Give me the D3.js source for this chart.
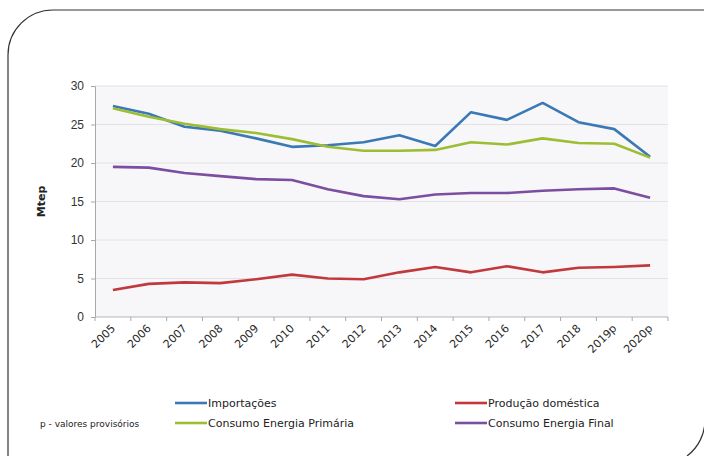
<!DOCTYPE html>
<html lang="pt">
<head>
<meta charset="UTF-8">
<title>Mtep</title>
<script src="https://d3js.org/d3.v7.min.js"></script>
<style>
  body, html { margin: 0; padding: 0; background: #fff; overflow: hidden; }
  svg { font-family: "DejaVu Sans", Verdana, sans-serif; }
</style>
</head>
<body>
<div id="chart"></div>
<script>
const years = ["2005","2006","2007","2008","2009","2010","2011","2012","2013","2014","2015","2016","2017","2018","2019p","2020p"];
const importacoes = [27.4, 26.4, 24.7, 24.2, 23.2, 22.1, 22.3, 22.7, 23.6, 22.2, 26.6, 25.6, 27.8, 25.3, 24.4, 20.8];
const producao    = [3.5, 4.3, 4.5, 4.4, 4.9, 5.5, 5.0, 4.9, 5.8, 6.5, 5.8, 6.6, 5.8, 6.4, 6.5, 6.7];
const primaria    = [27.1, 26.0, 25.1, 24.4, 23.9, 23.1, 22.1, 21.6, 21.6, 21.7, 22.7, 22.4, 23.2, 22.6, 22.5, 20.7];
const final       = [19.5, 19.4, 18.7, 18.3, 17.9, 17.8, 16.6, 15.7, 15.3, 15.9, 16.1, 16.1, 16.4, 16.6, 16.7, 15.5];
const yTicks = [0, 5, 10, 15, 20, 25, 30];

const series = [
  {name: "Importações", values: importacoes, color: "#3a78b6"},
  {name: "Produção doméstica", values: producao, color: "#c1393c"},
  {name: "Consumo Energia Primária", values: primaria, color: "#9dbd32"},
  {name: "Consumo Energia Final", values: final, color: "#7b4ea1"}
];

const width = 704, height = 456;
const margin = {top: 86, right: 36, bottom: 139, left: 95};
const innerWidth = width - margin.left - margin.right;
const innerHeight = height - margin.top - margin.bottom;

const svg = d3.select("#chart").append("svg")
  .attr("width", width)
  .attr("height", height);

// frame with rounded corners
svg.append("path")
  .attr("d", "M8,460 V55 A45,45 0 0 1 53,10 H710")
  .attr("fill", "none").attr("stroke", "#333").attr("stroke-width", 1.2);
svg.append("path")
  .attr("d", "M705,380 V420 A45,45 0 0 1 687,456")
  .attr("fill", "none").attr("stroke", "#333").attr("stroke-width", 1.2);

const g = svg.append("g").attr("transform", `translate(${margin.left},${margin.top})`);

const x = d3.scalePoint().domain(years).range([0, innerWidth]).padding(0.5);
const xBand = d3.scaleBand().domain(years).range([0, innerWidth]);
const y = d3.scaleLinear().domain([0, 30]).range([innerHeight, 0]);

g.append("rect")
  .attr("width", innerWidth).attr("height", innerHeight)
  .attr("fill", "#f7f7f9");

// gridlines
g.selectAll(".grid").data(yTicks.slice(1)).enter().append("line")
  .attr("x1", 0).attr("x2", innerWidth)
  .attr("y1", d => y(d)).attr("y2", d => y(d))
  .attr("stroke", "#e2e2e4").attr("stroke-width", 1);

// y axis
const yAxis = g.append("g")
  .call(d3.axisLeft(y).tickValues(yTicks).tickSize(4).tickPadding(7));
yAxis.select(".domain").attr("stroke", "#a8a8a8");
yAxis.selectAll(".tick line").attr("stroke", "#a8a8a8");
yAxis.selectAll("text").attr("fill", "#333").style("font-size", "12px");

// x axis: ticks at category boundaries
const xAxis = g.append("g").attr("transform", `translate(0,${innerHeight})`);
xAxis.append("line").attr("x1", 0).attr("x2", innerWidth)
  .attr("stroke", "#b5b5b5");
xAxis.selectAll(".xt").data(years.concat(["end"])).enter().append("line")
  .attr("x1", (d, i) => i * xBand.step()).attr("x2", (d, i) => i * xBand.step())
  .attr("y1", 0).attr("y2", 4).attr("stroke", "#a8a8a8");
xAxis.selectAll(".xl").data(years).enter().append("text")
  .attr("transform", d => `translate(${x(d) + 3},${12}) rotate(-45)`)
  .attr("text-anchor", "end")
  .attr("fill", "#2a2a2a")
  .style("font-size", "11px")
  .text(d => d);

// y title
svg.append("text")
  .attr("transform", `translate(45,${margin.top + innerHeight / 2}) rotate(-90)`)
  .attr("text-anchor", "middle")
  .attr("fill", "#222")
  .style("font-size", "11px")
  .style("font-weight", "bold")
  .text("Mtep");

// lines
const line = d3.line().x((d, i) => x(years[i])).y(d => y(d));
series.forEach(s => {
  g.append("path")
    .datum(s.values)
    .attr("fill", "none")
    .attr("stroke", s.color)
    .attr("stroke-width", 2.6)
    .attr("stroke-linejoin", "round")
    .attr("d", line);
});

// legend
const legendPos = [[175, 403], [455, 403], [175, 423], [455, 423]];
series.forEach((s, i) => {
  const [lx, ly] = legendPos[i];
  svg.append("line")
    .attr("x1", lx).attr("x2", lx + 32)
    .attr("y1", ly).attr("y2", ly)
    .attr("stroke", s.color).attr("stroke-width", 2.6);
  svg.append("text")
    .attr("x", lx + 33).attr("y", ly + 4)
    .attr("fill", "#222")
    .style("font-size", "11px")
    .text(s.name);
});
svg.append("text")
  .attr("x", 40).attr("y", 426.5)
  .attr("fill", "#222")
  .style("font-size", "9px")
  .text("p - valores provisórios");
</script>
</body>
</html>
